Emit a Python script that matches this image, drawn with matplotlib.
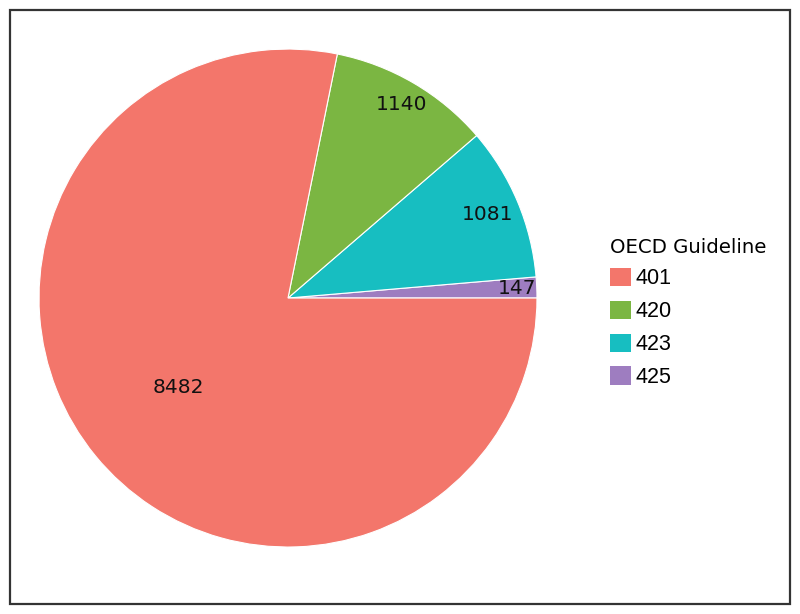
import numpy as np
import matplotlib
matplotlib.use('Agg')
from matplotlib import pyplot as plt
from matplotlib.patches import Patch, Rectangle

# slices, counter-clockwise from 3 o'clock
guidelines = ['425', '423', '420', '401']
counts = [147, 1081, 1140, 8482]
colors = ['#9E7DC0', '#17BEC1', '#7BB642', '#F3766B']
# how far out along the radius each count label sits
label_radius = [0.92, 0.87, 0.90, 0.57]

legend_order = ['401', '420', '423', '425']

fig = plt.figure(figsize=(8, 6.14), dpi=100)
fig.patches.append(Rectangle((10 / 800, 10 / 614), 780 / 800, 594 / 614,
                             transform=fig.transFigure, fill=False,
                             edgecolor='#333333', linewidth=1.6))

ax = fig.add_axes([0.04875, 0.1091, 0.6225, 0.811])
wedges, _ = ax.pie(counts, colors=colors, startangle=0, counterclock=True,
                   radius=1, wedgeprops=dict(edgecolor='white', linewidth=0.8))
ax.set_xlim(-1, 1)
ax.set_ylim(-1, 1)
ax.set_aspect('equal')
ax.axis('off')

total = sum(counts)
start = 0.0
for c, r in zip(counts, label_radius):
    mid = np.deg2rad(start + 360 * c / total / 2)
    ax.text(r * np.cos(mid), r * np.sin(mid), str(c), ha='center', va='center',
            fontsize=14.5, family='DejaVu Sans', color='#111111')
    start += 360 * c / total

handles = [Patch(facecolor=colors[guidelines.index(g)], edgecolor='none') for g in legend_order]
leg = fig.legend(handles, legend_order, loc='upper left', bbox_to_anchor=(0.763, 0.613),
                 frameon=False, title='OECD Guideline', alignment='left',
                 prop={'family': 'Liberation Sans', 'size': 15.5},
                 title_fontproperties={'family': 'DejaVu Sans', 'size': 14.2},
                 handlelength=0.95, handleheight=0.95, handletextpad=0.2,
                 labelspacing=0.52, borderpad=0, borderaxespad=0)

fig.savefig('out.png', dpi=100)
